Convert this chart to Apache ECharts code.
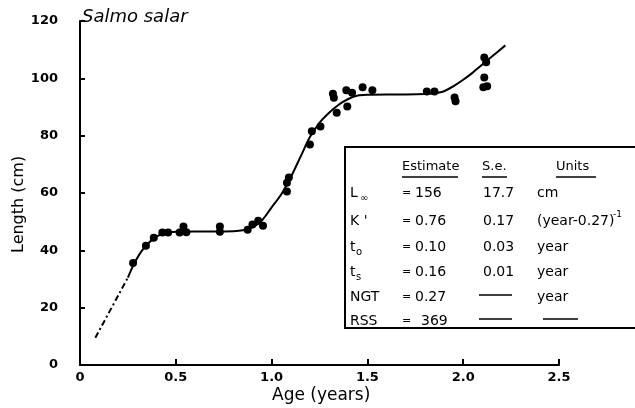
<!DOCTYPE html>
<html><head><meta charset="utf-8">
<script src="https://cdn.jsdelivr.net/npm/echarts@6/dist/echarts.min.js"></script>
<style>html,body{margin:0;padding:0;background:#fff}#c{width:635px;height:408px}</style>
</head><body><div id="c"></div>
<script>
// ---- data ----
var xTicks = [0, 0.5, 1.0, 1.5, 2.0, 2.5];
var yTicks = [0, 20, 40, 60, 80, 100, 120];
var observedAge = [0.277,0.344,0.385,0.43,0.46,0.52,0.54,0.555,0.73,0.73,0.875,0.9,0.93,0.955,
  1.08,1.08,1.09,1.2,1.21,1.255,1.34,1.395,1.32,1.325,1.39,1.42,1.475,1.526,1.81,1.85,1.955,1.96,
  2.11,2.12,2.11,2.105,2.125];
var observedLength = [35.6,41.6,44.4,46.2,46.2,46.2,48.3,46.3,48.3,46.5,47.2,49,50.3,48.6,
  60.5,63.6,65.4,76.9,81.5,83.2,88,90.2,94.6,93.2,95.8,95,96.9,95.8,95.4,95.4,93.3,92,
  107.3,105.6,100.3,96.9,97.2];
var fitAge = [0.25,0.28,0.31,0.34,0.37,0.4,0.43,0.47,0.5,0.6,0.7,0.8,0.85,0.9,0.95,1.0,1.05,1.1,1.15,1.2,1.25,1.3,1.35,1.4,1.45,1.5,1.6,1.7,1.8,1.85,1.9,1.95,2.0,2.05,2.1,2.15,2.22];
var fitLength = [30.5,35,38.6,41.3,43.3,44.8,45.8,46.3,46.5,46.6,46.6,46.7,47,48,50.5,55,59.5,65.5,72.5,79.5,84.5,88,90.8,92.8,94,94.3,94.4,94.4,94.5,94.8,95.5,97.3,99.5,102,104.8,107.6,111.5];
var extrapAge = [0.08, 0.165, 0.25];
var extrapLength = [9.5, 20, 30.5];
var tableHeaders = ['Estimate', 'S.e.', 'Units'];
var paramNames = ['L', "K '", 't', 't', 'NGT', 'RSS'];
var paramSubs = ['∞', '', 'o', 's', '', ''];
var estimates = ['156', '0.76', '0.10', '0.16', '0.27', '369'];
var stdErrors = ['17.7', '0.17', '0.03', '0.01', '', ''];
var units = ['cm', '(year-0.27)', 'year', 'year', 'year', ''];

function zip(a, b) { return a.map(function (v, i) { return [v, b[i]]; }); }

var chart = echarts.init(document.getElementById('c'));
var F = 'DejaVu Sans';
var g = [];
// titles
g.push({type:'text', left:82, top:8, style:{text:'Salmo salar', font:'italic 18px "DejaVu Sans"', fill:'#000'}});
g.push({type:'text', x:272, y:387, style:{text:'Age (years)', font:'17px "DejaVu Sans"', fill:'#000'}});
g.push({type:'text', x:11, y:253, rotation:Math.PI/2, style:{text:'Length (cm)', font:'16px "DejaVu Sans"', fill:'#000'}});
// table
g.push({type:'rect', shape:{x:345, y:147, width:300, height:181}, style:{fill:'#fff', stroke:'#000', lineWidth:2}, z:10});
var hx = [402, 482, 556], hw = [56, 25, 40];
tableHeaders.forEach(function (h, i) {
  g.push({type:'text', x:hx[i], y:160, z:11, style:{text:h, font:'13px "DejaVu Sans"', fill:'#000'}});
  g.push({type:'line', z:11, shape:{x1:hx[i], y1:177, x2:hx[i]+hw[i], y2:177}, style:{stroke:'#000', lineWidth:1.5}});
});
var rowY = [193, 221, 247, 272, 297, 321];
var RF = '14px "DejaVu Sans"';
paramNames.forEach(function (p, i) {
  var y = rowY[i];
  g.push({type:'text', x:350, y:y, z:11, style:{text:p, font:RF, fill:'#000', verticalAlign:'middle'}});
  if (paramSubs[i]) g.push({type:'text', x:p==='L'?360:356, y:y+5, z:11, style:{text:paramSubs[i], font:'10px "DejaVu Sans"', fill:'#000', verticalAlign:'middle'}});
  g.push({type:'text', x:402, y:y, z:11, style:{text:'=', font:'11px "DejaVu Sans"', fill:'#000', verticalAlign:'middle'}});
  g.push({type:'text', x:estimates[i]==='369'?421:415, y:y, z:11, style:{text:estimates[i], font:RF, fill:'#000', verticalAlign:'middle'}});
  if (stdErrors[i]) g.push({type:'text', x:483, y:y, z:11, style:{text:stdErrors[i], font:RF, fill:'#000', verticalAlign:'middle'}});
  else g.push({type:'line', z:11, shape:{x1:479, y1:y-2, x2:512, y2:y-2}, style:{stroke:'#000', lineWidth:1.5}});
  if (units[i]) g.push({type:'text', x:537, y:y, z:11, style:{text:units[i], font:RF, fill:'#000', verticalAlign:'middle'}});
  else g.push({type:'line', z:11, shape:{x1:543, y1:y-2, x2:578, y2:y-2}, style:{stroke:'#000', lineWidth:1.5}});
});
g.push({type:'text', x:613, y:210, z:11, style:{text:'-1', font:'9px "DejaVu Sans"', fill:'#000'}});

chart.setOption({
  animation:false,
  backgroundColor:'#fff',
  grid:{left:80, right:76, top:21, bottom:43},
  xAxis:{type:'value', min:0, max:2.5, interval:0.5,
    axisLine:{lineStyle:{color:'#000', width:2}},
    axisTick:{inside:true, length:6, lineStyle:{color:'#000', width:2}},
    axisLabel:{color:'#000', fontFamily:F, fontSize:13, fontWeight:'bold', margin:6,
      formatter:function(v){return v===0?'0':v.toFixed(1);}},
    splitLine:{show:false}},
  yAxis:{type:'value', min:0, max:120, interval:20, offset:17,
    axisLine:{show:true, lineStyle:{color:'#000', width:2}},
    axisTick:{show:true, inside:true, length:5, lineStyle:{color:'#000', width:2}},
    axisLabel:{color:'#000', fontFamily:F, fontSize:13, fontWeight:'bold', margin:5},
    splitLine:{show:false}},
  graphic:g,
  series:[
    {type:'line', data:zip(extrapAge, extrapLength), showSymbol:false, smooth:false,
      lineStyle:{color:'#000', width:2, type:[6,3,2,3]}},
    {type:'line', data:zip(fitAge, fitLength), showSymbol:false, smooth:0.3,
      lineStyle:{color:'#000', width:2}},
    {type:'scatter', data:zip(observedAge, observedLength), symbolSize:8,
      itemStyle:{color:'#000', opacity:1}}
  ]
});
</script></body></html>
